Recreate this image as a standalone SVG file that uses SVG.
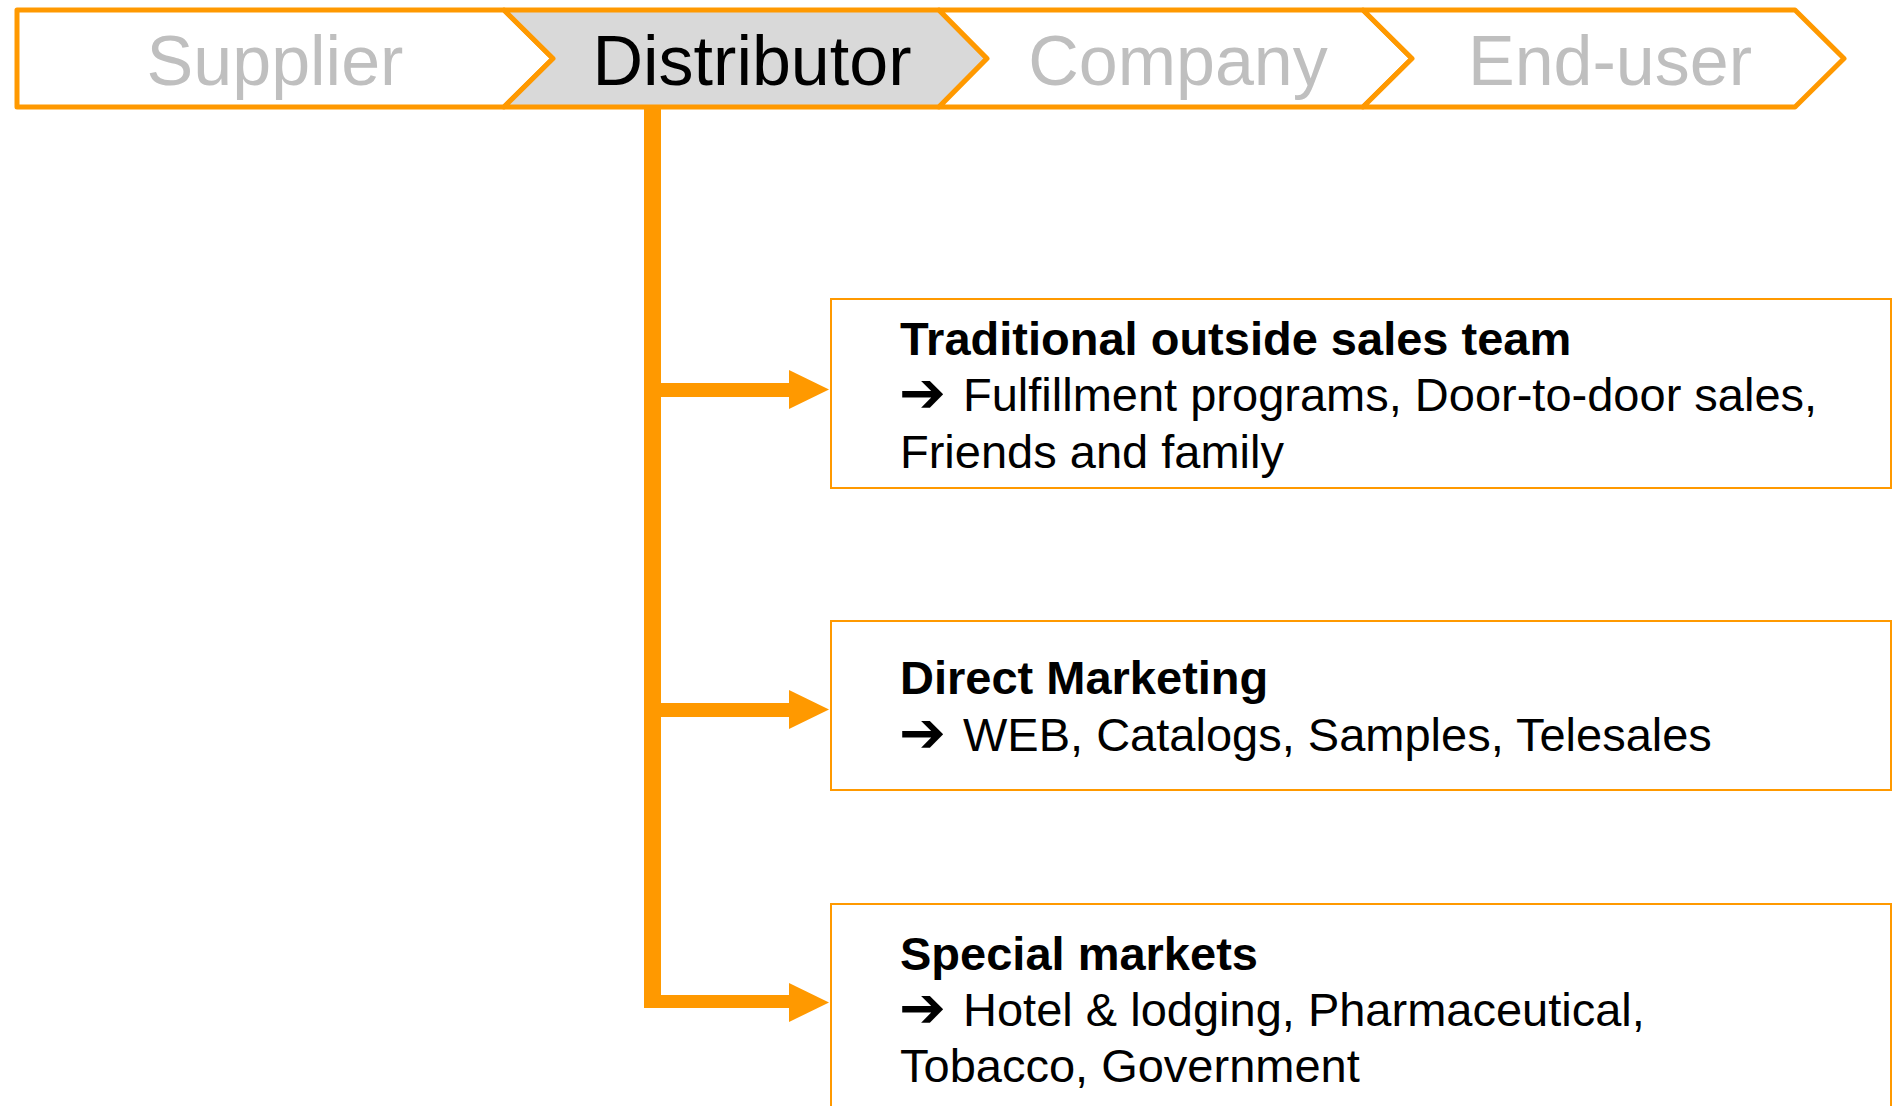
<svg xmlns="http://www.w3.org/2000/svg" width="1892" height="1106" viewBox="0 0 1892 1106">
  <style>
    .stage { stroke: #FF9900; stroke-width: 5; stroke-linejoin: round; }
    .stage-off { fill: #FFFFFF; }
    .stage-on { fill: #D9D9D9; }
    .stage-label { font-family: "Liberation Sans", Arial, sans-serif; font-size: 70px; text-anchor: middle; }
    .label-off { fill: #BFBFBF; }
    .label-on { fill: #000000; }
    .channel { fill: #FFFFFF; stroke: #FF9900; stroke-width: 2; }
    .title { font-family: "Liberation Sans", Arial, sans-serif; font-size: 47px; font-weight: bold; fill: #000; }
    .body { font-family: "Liberation Sans", Arial, sans-serif; font-size: 47px; fill: #000; }
    .bullet { font-family: "DejaVu Sans", sans-serif; font-size: 56px; font-weight: bold; }
    .flow { fill: #FF9900; }
  </style>
  <rect width="1892" height="1106" fill="#FFFFFF"/>

  <!-- value chain header -->
  <g id="stage-supplier">
    <path class="stage stage-off" d="M17,10 L504,10 L553,58.5 L504,107 L17,107 Z"/>
    <text class="stage-label label-off" x="275" y="85">Supplier</text>
  </g>
  <g id="stage-distributor">
    <path class="stage stage-on" d="M504,10 L939,10 L987,58.5 L939,107 L504,107 L553,58.5 Z"/>
    <text class="stage-label label-on" x="752" y="85">Distributor</text>
  </g>
  <g id="stage-company">
    <path class="stage stage-off" d="M939,10 L1363,10 L1412,58.5 L1363,107 L939,107 L987,58.5 Z"/>
    <text class="stage-label label-off" x="1178" y="85">Company</text>
  </g>
  <g id="stage-enduser">
    <path class="stage stage-off" d="M1363,10 L1795,10 L1844,58.5 L1795,107 L1363,107 L1412,58.5 Z"/>
    <text class="stage-label label-off" x="1610" y="85">End-user</text>
  </g>

  <!-- connectors from the distributor to each channel -->
  <g id="connectors">
    <rect class="flow" x="644" y="107" width="17" height="901"/>
    <rect class="flow" x="652" y="383" width="138" height="14"/>
    <polygon class="flow" points="789,370 829,389.5 789,409"/>
    <rect class="flow" x="652" y="703" width="138" height="14"/>
    <polygon class="flow" points="789,690 829,709.5 789,729"/>
    <rect class="flow" x="644" y="995" width="146" height="13"/>
    <polygon class="flow" points="789,983 829,1002.5 789,1022"/>
  </g>

  <!-- sales channels -->
  <g id="channel-outside-sales">
    <rect class="channel" x="831" y="299" width="1060" height="189"/>
    <text class="title" x="900" y="355">Traditional outside sales team</text>
    <text class="body" x="899" y="412"><tspan class="bullet">➔</tspan><tspan x="963" y="411">Fulfillment programs, Door-to-door sales,</tspan></text>
    <text class="body" x="900" y="468">Friends and family</text>
  </g>
  <g id="channel-direct-marketing">
    <rect class="channel" x="831" y="621" width="1060" height="169"/>
    <text class="title" x="900" y="694">Direct Marketing</text>
    <text class="body" x="899" y="752"><tspan class="bullet">➔</tspan><tspan x="963" y="751">WEB, Catalogs, Samples, Telesales</tspan></text>
  </g>
  <g id="channel-special-markets">
    <rect class="channel" x="831" y="904" width="1060" height="260"/>
    <text class="title" x="900" y="970">Special markets</text>
    <text class="body" x="899" y="1027"><tspan class="bullet">➔</tspan><tspan x="963" y="1026">Hotel &amp; lodging, Pharmaceutical,</tspan></text>
    <text class="body" x="900" y="1082">Tobacco, Government</text>
  </g>
</svg>
